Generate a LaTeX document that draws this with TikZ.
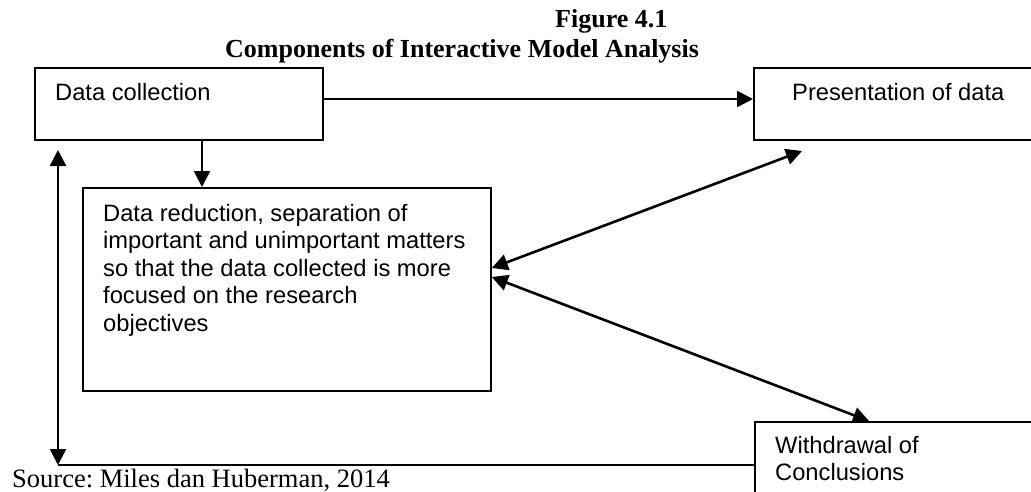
\documentclass[tikz,border=0pt]{standalone}
\usepackage{fontspec}
\setmainfont{Liberation Serif}
\newfontfamily\arialfont{Liberation Sans}
\usetikzlibrary{arrows.meta}
\frenchspacing
\begin{document}
\begin{tikzpicture}[x=1pt,y=-1pt,
  box/.style={draw, line width=1.8pt, inner sep=0pt, anchor=north west},
  lbl/.style={font=\arialfont\fontsize{23.7}{27.6}\selectfont, anchor=north west, inner sep=0pt, align=left},
  ttl/.style={font=\bfseries\fontsize{26}{30}\selectfont, anchor=base west, inner sep=0pt},
  src/.style={font=\fontsize{26.5}{30}\selectfont, anchor=base west, inner sep=0pt},
  tip/.tip={Triangle[length=16pt,width=16pt]},
  arr/.style={line width=2.6pt, -tip},
  dbl/.style={line width=2.6pt, tip-tip},
  plain/.style={line width=2pt}
]
\useasboundingbox (0,0) rectangle (1031,491);
\fill[white] (0,0) rectangle (1031,491);

% title
\node[ttl] (fig) at (555,27) {Figure 4.1};
\node[ttl] (cap) at (225,57) {Components of Interactive Model Analysis};

% boxes
\node[box, minimum width=288pt, minimum height=72pt] (dc) at (34,67) {};
\node[box, minimum width=284pt, minimum height=72pt] (pd) at (753,67) {};
\node[box, minimum width=408pt, minimum height=203pt] (dr) at (82,187) {};
\node[box, minimum width=284pt, minimum height=72pt] (wc) at (754,421) {};

% texts
\node[lbl] (dct) at (55,82.7) {Data collection};
\node[lbl] (pdt) at (792,82.7) {Presentation of data};
\node[lbl] (drt) at (103,203.7) {Data reduction, separation of\\important and unimportant matters\\so that the data collected is more\\focused on the research\\objectives};
\node[lbl] (wct) at (775,435.7) {Withdrawal of\\Conclusions};

\node[src] (source) at (12,487) {Source: Miles dan Huberman, 2014};

% connectors
\draw[arr] (dc.east |- 0,99) -- (pd.west |- 0,99);
\draw[arr] (dc.south -| 202,0) -- (dr.north -| 202,0);
\coordinate (p1) at (802,151);
\coordinate (w1) at (869,421);
\draw[dbl] (dr.east |- 0,268) -- (p1);
\draw[dbl] (dr.east |- 0,277) -- (w1);
\coordinate (up) at (58,150);
\coordinate (corner) at (58,465);
\draw[dbl] (up) -- (corner);
\draw[plain] (wc.west |- corner) -- (corner);
\end{tikzpicture}
\end{document}
